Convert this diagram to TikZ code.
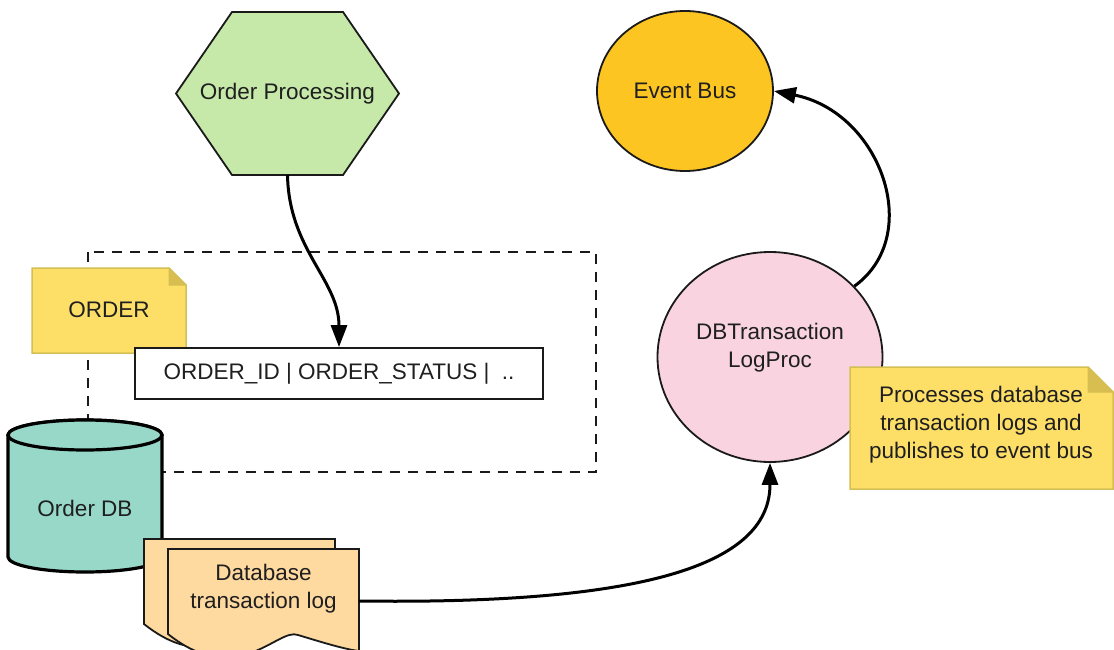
\documentclass[tikz,border=0pt]{standalone}
\usepackage{fontspec}
\setmainfont{Liberation Sans}
\usetikzlibrary{shapes.geometric,arrows.meta}
\definecolor{hexgreen}{HTML}{C6E9AA}
\definecolor{busamber}{HTML}{FDC521}
\definecolor{procpink}{HTML}{F9D3DF}
\definecolor{dbteal}{HTML}{97D8C9}
\definecolor{docorange}{HTML}{FED9A0}
\definecolor{noteyellow}{HTML}{FDDF68}
\definecolor{notefold}{HTML}{D8BD50}
\definecolor{noteedge}{HTML}{D4BF55}
\definecolor{textgray}{HTML}{1F1F1F}
\definecolor{edgegray}{HTML}{1A1A1A}
\begin{document}
\begin{tikzpicture}[x=1pt,y=-1pt,
  txt/.style={font=\fontsize{22.5}{28}\selectfont, text=textgray, align=center, inner sep=0pt},
  conn/.style={line width=3pt, draw=black, -{Triangle[length=22pt,width=16pt]}},
  shapeedge/.style={draw=edgegray, line width=1.8pt},
  notebody/.style={fill=noteyellow, draw=noteedge, line width=1.5pt},
  notecorner/.style={fill=notefold, draw=noteedge, line width=1pt},
  container/.style={draw=edgegray, line width=2pt, dash pattern=on 10pt off 8pt}
]
\useasboundingbox (0,0) rectangle (1114,650);

% container (dashed)
\draw[container] (88,252) rectangle (596,472);

% ORDER note
\path[notebody] (32,268) -- (169,268) -- (186,285) -- (186,353) -- (32,353) -- cycle;
\path[notecorner] (169,268) -- (169,285) -- (186,285) -- cycle;
\node[txt] (ordernote) at (109,310) {ORDER};

% table row
\node[shapeedge, fill=white, minimum width=408pt, minimum height=51pt, inner sep=0pt,
      font=\fontsize{22.5}{28}\selectfont, text=textgray] (tbl) at (339,373.5)
      {ORDER\_ID | ORDER\_STATUS |\ \ ..};

% Order DB cylinder
\path[fill=dbteal, draw=black, line width=3.2pt]
  (8,435) -- (8,557) arc[start angle=180, end angle=360, x radius=77pt, y radius=15pt]
  -- (162,435) arc[start angle=0, end angle=180, x radius=77pt, y radius=15pt] -- cycle;
\draw[fill=dbteal, draw=black, line width=3.2pt] (85,435) ellipse [x radius=77pt, y radius=15pt];
\node[txt] (db) at (85,508) {Order DB};

% database transaction log (document stack)
\path[fill=docorange, shapeedge]
  (144,539) -- (335,539) -- (335,641)
  .. controls (319,639) and (294,631) .. (274,625)
  .. controls (254,617) and (214,680) .. (144,624) -- cycle;
\path[fill=docorange, shapeedge]
  (168,549) -- (359,549) -- (359,651)
  .. controls (343,649) and (318,641) .. (298,635)
  .. controls (278,627) and (238,690) .. (168,634) -- cycle;
\node[minimum width=191pt, minimum height=102pt, inner sep=0pt] (log) at (263.5,601) {};
\node[txt] (loglabel) at (263.5,589) {Database\\transaction log};

% Order Processing hexagon
\path[fill=hexgreen, shapeedge] (232,12) -- (343,12) -- (399,93.5) -- (343,175) -- (232,175) -- (176,93.5) -- cycle;
\node[txt, minimum height=163pt] (op) at (287.5,93.5) {Order Processing};

% Event Bus
\node[ellipse, fill=busamber, shapeedge, minimum width=176pt, minimum height=160pt, txt] (eb) at (685,91) {Event Bus};

% DBTransaction LogProc
\node[ellipse, fill=procpink, shapeedge, minimum width=225pt, minimum height=210pt] (dbt) at (770,357) {};
\node[txt] (dbtlabel) at (770,348) {DBTransaction\\LogProc};

% description note
\path[notebody] (850,367) -- (1088,367) -- (1113,392) -- (1113,489) -- (850,489) -- cycle;
\path[notecorner] (1088,367) -- (1088,392) -- (1113,392) -- cycle;
\node[txt] (desc) at (981,425) {Processes database\\transaction logs and\\publishes to event bus};

% connectors
\draw[conn] (op.south) .. controls (289,250) and (339,280) .. (tbl.north);
\draw[conn] (log.east) .. controls (660,605) and (770,560) .. (dbt.south);
\draw[conn] (dbt.40) .. controls (925,235) and (880,112) .. (eb.east);
\end{tikzpicture}
\end{document}
